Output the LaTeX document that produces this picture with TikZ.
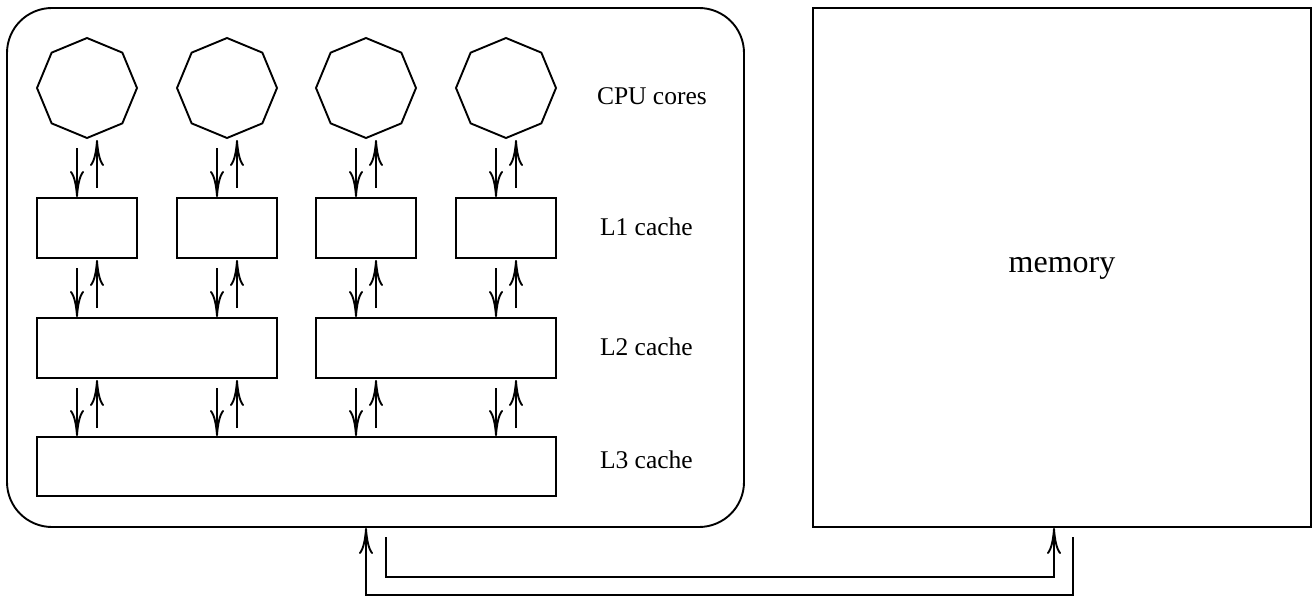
\documentclass[tikz,border=0pt]{standalone}
\usepackage{fontspec}
\setmainfont{Liberation Serif}
\usetikzlibrary{shapes.geometric,arrows.meta}
\begin{document}
\begin{tikzpicture}[x=1pt,y=-1pt,line width=1.9pt,every node/.style={outer sep=0pt},
  arr/.style={-{Computer Modern Rightarrow[length=26pt,width=14pt,line width=1.9pt]}},
  core/.style={draw,regular polygon,regular polygon sides=8,minimum size=100pt,inner sep=0pt,shape border rotate=22.5},
  cache/.style={draw,rectangle,inner sep=0pt,anchor=north west,minimum height=60pt},
  lbl/.style={font=\fontsize{25.5}{30}\selectfont,anchor=base west,inner sep=0pt},
  big/.style={draw,rectangle,inner sep=0pt,anchor=north west,minimum height=519pt}]
\useasboundingbox (0,0) rectangle (1314,596);
% outer boxes
\node[big,rounded corners=45pt,minimum width=737pt] (cpu) at (7,8) {};
\node[big,minimum width=498pt] (mem) at (813,8) {};
\node[font=\fontsize{32}{38}\selectfont,anchor=base,inner sep=0pt] (memlbl) at (1062,272) {memory};
% cores
\foreach \i/\x in {1/87,2/227,3/366,4/506}{
  \node[core] (c\i) at (\x,88) {};
  \node[cache,minimum width=100pt] (l1\i) at (\x-50,198) {};
}
\node[cache,minimum width=240pt] (l21) at (37,318) {};
\node[cache,minimum width=240pt] (l22) at (316,318) {};
\node[cache,minimum width=519pt,minimum height=59pt] (l3) at (37,437) {};
% labels
\node[lbl] (tcpu) at (597,105) {CPU cores};
\node[lbl] (tl1) at (600,235) {L1 cache};
\node[lbl] (tl2) at (600,355) {L2 cache};
\node[lbl] (tl3) at (600,468) {L3 cache};
% arrows
\foreach \i/\b in {1/l21,2/l21,3/l22,4/l22}{
  \draw[arr] ([xshift=-10pt,yshift=-10pt]c\i.south) -- ([xshift=-10pt,yshift=1pt]l1\i.north);
  \draw[arr] ([xshift=10pt,yshift=10pt]l1\i.north) -- ([xshift=10pt,yshift=-2pt]c\i.south);
  \draw[arr] ([xshift=-10pt,yshift=-10pt]l1\i.south) -- ([xshift=-10pt,yshift=1pt]l1\i.south |- \b.north);
  \draw[arr] ([xshift=10pt,yshift=10pt]l1\i.south |- \b.north) -- ([xshift=10pt,yshift=-2pt]l1\i.south);
  \draw[arr] ([xshift=-10pt,yshift=-10pt]l1\i.south |- \b.south) -- ([xshift=-10pt,yshift=1pt]l1\i.south |- l3.north);
  \draw[arr] ([xshift=10pt,yshift=9pt]l1\i.south |- l3.north) -- ([xshift=10pt,yshift=-2pt]l1\i.south |- \b.south);
}
% memory connectors
\coordinate (a0) at ([xshift=10.5pt,yshift=-10pt]cpu.south);
\coordinate (b0) at ([xshift=11pt,yshift=-10pt]mem.south);
\draw[arr] (a0) |- ([xshift=-8pt,yshift=-50pt]mem.south) -- ([xshift=-8pt,yshift=-1pt]mem.south);
\draw[arr] (b0) |- ([xshift=-9.5pt,yshift=-68.3pt]cpu.south) -- ([xshift=-9.5pt,yshift=-1pt]cpu.south);
\end{tikzpicture}
\end{document}
